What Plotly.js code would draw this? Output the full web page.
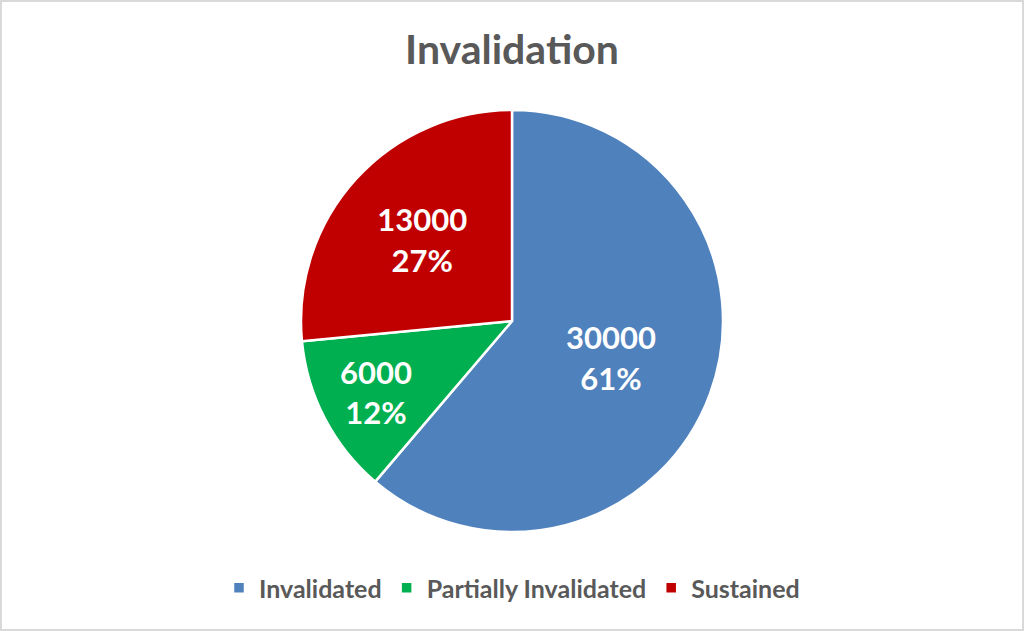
<!DOCTYPE html>
<html>
<head>
<meta charset="utf-8">
<script src="https://cdn.plot.ly/plotly-3.0.1.min.js"></script>
<style>
  html, body { margin: 0; padding: 0; background: #fff; }
  #wrap { position: relative; width: 1024px; height: 631px; }
  #chart { position: absolute; left: 0; top: 0; width: 1024px; height: 631px; }
  #frame { position: absolute; left: 0; top: 0; width: 1024px; height: 631px;
           box-sizing: border-box; border: 2px solid #d9d9d9; pointer-events: none; }
</style>
</head>
<body>
<div id="wrap">
  <div id="chart"></div>
  <div id="frame"></div>
</div>
<script>
const categories = ["Invalidated", "Partially Invalidated", "Sustained"];
const values = [30000, 6000, 13000];
const colors = ["#4F81BD", "#00B050", "#C00000"];
const chartTitle = "Invalidation";

const trace = {
  type: "pie",
  labels: categories,
  values: values,
  sort: false,
  direction: "clockwise",
  rotation: 0,
  marker: { colors: colors, line: { color: "#ffffff", width: 2.5 } },
  texttemplate: "%{value:d}<br>%{percent:.0%}",
  textposition: "inside",
  insidetextorientation: "horizontal",
  textfont: { family: "Lato, sans-serif", size: 31, color: "#ffffff", weight: "bold" },
  hoverinfo: "none",
  domain: { x: [0, 1], y: [99 / 631, 521 / 631] }
};

const layout = {
  width: 1024,
  height: 631,
  margin: { l: 0, r: 0, t: 0, b: 0 },
  paper_bgcolor: "#ffffff",
  title: {
    text: "<b>" + chartTitle + "</b>",
    font: { family: "Lato, sans-serif", size: 41, color: "#595959" },
    x: 0.5, xanchor: "center",
    y: 1 - 50 / 631, yanchor: "middle",
    xref: "paper", yref: "container"
  },
  showlegend: true,
  legend: {
    orientation: "h",
    x: 0.5, xanchor: "center",
    y: 1 - 588 / 631, yanchor: "middle",
    font: { family: "Lato, sans-serif", size: 25, color: "#595959", weight: "bold" },
    traceorder: "normal",
    itemwidth: 30
  }
};

Plotly.newPlot("chart", [trace], layout, { displayModeBar: false, staticPlot: true });
</script>
</body>
</html>
